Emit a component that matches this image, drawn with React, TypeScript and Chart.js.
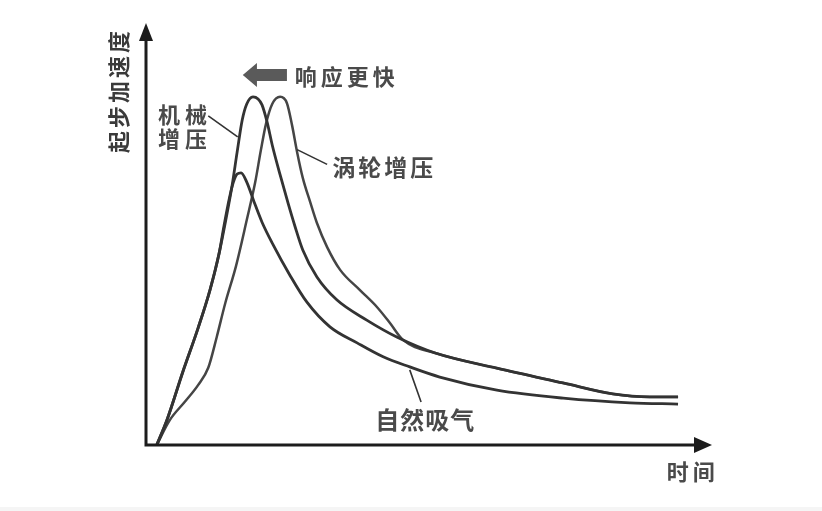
import React, { useEffect, useRef } from "react";
import { Chart, registerables } from "chart.js";

Chart.register(...registerables);

// 机械增压 (time, acceleration)
const MECH_T = [1.9, 3.7, 6.5, 9.2, 11.3, 12.9, 14.1, 15.2, 16.1, 17.0, 17.8, 18.9, 19.8, 20.5, 21.4, 22.3, 23.7, 25.1, 26.3, 27.7, 30.2, 33.7, 39.0, 44.3, 51.1, 62.0, 73.7, 82.5, 89.0, 94.0];
const MECH_A = [0, 5.9, 17.3, 27.7, 36.7, 45.3, 53.3, 61.4, 69.4, 77.0, 80.8, 82.5, 82.0, 80.6, 76.5, 71.1, 64.0, 57.3, 51.9, 46.2, 39.8, 34.4, 29.6, 25.6, 21.8, 18.2, 14.7, 12.1, 11.4, 11.4];

// 涡轮增压
const TURBO_T = [1.9, 4.2, 6.9, 9.2, 11.0, 12.5, 14.0, 15.9, 17.8, 19.3, 20.3, 21.2, 22.3, 23.7, 24.9, 25.8, 26.7, 27.7, 29.0, 30.2, 32.0, 34.3, 37.8, 40.8, 43.1, 45.4, 51.1, 62.0, 73.7, 82.5, 89.0, 94.0];
const TURBO_A = [0, 5.9, 10.3, 14.2, 18.3, 25.6, 33.6, 42.4, 53.3, 62.3, 69.9, 76.1, 80.8, 82.5, 81.0, 75.8, 69.4, 63.3, 57.6, 52.6, 46.9, 41.5, 36.7, 32.7, 28.9, 24.9, 21.8, 18.2, 14.7, 12.1, 11.4, 11.4];

// 自然吸气
const NA_T = [1.9, 3.7, 6.5, 9.2, 11.3, 12.9, 13.8, 14.7, 15.4, 16.1, 16.8, 17.8, 19.1, 20.5, 22.4, 25.4, 28.4, 32.5, 37.3, 41.9, 46.6, 51.9, 62.0, 73.7, 85.5, 94.0];
const NA_A = [0, 5.9, 17.3, 27.7, 36.7, 45.3, 52.1, 58.3, 62.1, 64.2, 64.5, 62.3, 57.6, 52.8, 47.6, 40.3, 33.9, 28.0, 24.2, 20.9, 18.5, 16.1, 13.0, 11.1, 10.0, 9.7];

const LABEL_MECH = ["机械", "增压"];
const LABEL_TURBO = "涡轮增压";
const LABEL_NA = "自然吸气";
const LABEL_FASTER = "响应更快";
const TITLE_X = "时间";
const TITLE_Y = "起步加速度";

const zip = (t: number[], a: number[]) => t.map((x, i) => ({ x, y: a[i] }));

const FONT = '"Noto Sans CJK SC", "Noto Sans", sans-serif';

const overlay = {
  id: "overlay",
  beforeDraw(chart: any) {
    const { ctx, width, height } = chart;
    ctx.save();
    ctx.fillStyle = "#ffffff";
    ctx.fillRect(0, 0, width, height);
    ctx.fillStyle = "#f5f5f5";
    ctx.fillRect(0, height - 4, width, 4);
    ctx.restore();
  },
  afterDatasetsDraw(chart: any) {
    const { ctx, chartArea: a } = chart;
    const X = (v: number) => chart.scales.x.getPixelForValue(v);
    const Y = (v: number) => chart.scales.y.getPixelForValue(v);
    ctx.save();

    // axes with arrow heads
    ctx.strokeStyle = "#1c1c1c";
    ctx.fillStyle = "#1c1c1c";
    ctx.lineWidth = 3;
    ctx.beginPath();
    ctx.moveTo(a.left, a.top + 14);
    ctx.lineTo(a.left, a.bottom);
    ctx.lineTo(a.right - 14, a.bottom);
    ctx.stroke();
    ctx.beginPath();
    ctx.moveTo(a.right, a.bottom);
    ctx.lineTo(a.right - 18, a.bottom - 8);
    ctx.lineTo(a.right - 18, a.bottom + 8);
    ctx.closePath();
    ctx.fill();
    ctx.beginPath();
    ctx.moveTo(a.left, a.top);
    ctx.lineTo(a.left - 7, a.top + 18);
    ctx.lineTo(a.left + 7, a.top + 18);
    ctx.closePath();
    ctx.fill();

    // pointer lines
    ctx.strokeStyle = "#333";
    ctx.lineWidth = 1.6;
    const lines = [
      [11.0, 78.0, 16.2, 73.0],
      [26.7, 70.0, 32.0, 66.5],
      [46.6, 17.8, 48.6, 10.2],
    ];
    lines.forEach(([x1, y1, x2, y2]) => {
      ctx.beginPath();
      ctx.moveTo(X(x1), Y(y1));
      ctx.lineTo(X(x2), Y(y2));
      ctx.stroke();
    });

    // "faster" arrow
    const tipX = X(17.1), tipY = Y(87.7), baseX = X(19.6), endX = X(24.9);
    ctx.fillStyle = "#5a5a5a";
    ctx.beginPath();
    ctx.moveTo(tipX, tipY);
    ctx.lineTo(baseX, tipY - 12);
    ctx.lineTo(baseX, tipY - 6);
    ctx.lineTo(endX, tipY - 6);
    ctx.lineTo(endX, tipY + 6);
    ctx.lineTo(baseX, tipY + 6);
    ctx.lineTo(baseX, tipY + 12);
    ctx.closePath();
    ctx.fill();

    // labels
    ctx.textBaseline = "middle";
    ctx.textAlign = "left";
    const text = (s: string, x: number, y: number, size: number, spacing: number, color = "#4a4a4a") => {
      ctx.font = `bold ${size}px ${FONT}`;
      ctx.letterSpacing = `${spacing}px`;
      ctx.fillStyle = color;
      ctx.fillText(s, X(x), Y(y));
    };
    text(LABEL_MECH[0], 2.1, 78.2, 22, 5);
    text(LABEL_MECH[1], 2.1, 72.7, 22, 5);
    text(LABEL_TURBO, 32.9, 65.9, 23, 3);
    text(LABEL_NA, 40.5, 5.9, 24, 1);
    text(LABEL_FASTER, 26.3, 87.4, 22, 4);
    text(TITLE_X, 92.0, -6.2, 22, 4);

    ctx.save();
    ctx.translate(X(-4.9), Y(69.2));
    ctx.rotate(-Math.PI / 2);
    ctx.font = `bold 22px ${FONT}`;
    ctx.letterSpacing = "3px";
    ctx.fillStyle = "#3a3a3a";
    ctx.fillText(TITLE_Y, 0, 0);
    ctx.restore();

    ctx.restore();
  },
};

export default function App() {
  const canvasRef = useRef<HTMLCanvasElement | null>(null);

  useEffect(() => {
    const canvas = canvasRef.current;
    if (!canvas) return;
    const line = (data: { x: number; y: number }[], color: string, width: number) => ({
      data,
      borderColor: color,
      borderWidth: width,
      pointRadius: 0,
      fill: false,
      cubicInterpolationMode: "monotone" as const,
    });
    const chart = new Chart(canvas, {
      type: "line",
      data: {
        datasets: [
          line(zip(MECH_T, MECH_A), "#333333", 2.8),
          line(zip(NA_T, NA_A), "#333333", 2.8),
          line(zip(TURBO_T, TURBO_A), "#454545", 2.5),
        ],
      },
      options: {
        animation: false,
        responsive: true,
        maintainAspectRatio: false,
        layout: { padding: { left: 146, right: 110, top: 23, bottom: 66 } },
        scales: {
          x: { type: "linear", min: 0, max: 100, display: false },
          y: { min: 0, max: 100, display: false },
        },
        plugins: { legend: { display: false }, tooltip: { enabled: false } },
      },
      plugins: [overlay],
    });
    return () => chart.destroy();
  }, []);

  return (
    <div style={{ position: "absolute", left: 0, top: 0, width: 822, height: 511, background: "#fff" }}>
      <canvas ref={canvasRef} />
    </div>
  );
}
